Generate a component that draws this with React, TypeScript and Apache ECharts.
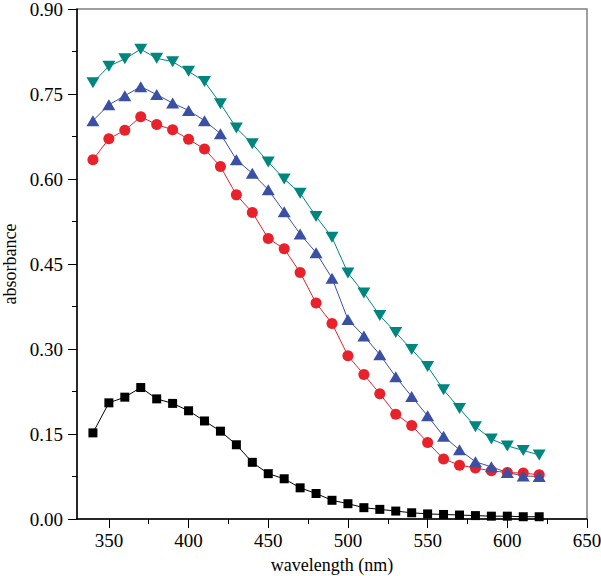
import React, { useEffect, useRef } from "react";
import * as echarts from "echarts";

const wavelengths = [340, 350, 360, 370, 380, 390, 400, 410, 420, 430, 440, 450, 460, 470, 480, 490, 500, 510, 520, 530, 540, 550, 560, 570, 580, 590, 600, 610, 620];
const squares = [0.152, 0.205, 0.215, 0.232, 0.212, 0.204, 0.191, 0.173, 0.155, 0.131, 0.100, 0.080, 0.071, 0.055, 0.045, 0.033, 0.027, 0.020, 0.017, 0.014, 0.011, 0.009, 0.008, 0.007, 0.006, 0.005, 0.005, 0.004, 0.004];
const circles = [0.634, 0.671, 0.686, 0.710, 0.696, 0.687, 0.670, 0.653, 0.622, 0.572, 0.541, 0.495, 0.477, 0.435, 0.381, 0.345, 0.288, 0.255, 0.221, 0.185, 0.165, 0.135, 0.106, 0.095, 0.090, 0.085, 0.082, 0.081, 0.078];
const upTriangles = [0.703, 0.731, 0.747, 0.763, 0.749, 0.734, 0.721, 0.703, 0.680, 0.634, 0.610, 0.581, 0.542, 0.503, 0.470, 0.425, 0.352, 0.323, 0.290, 0.251, 0.216, 0.182, 0.146, 0.122, 0.101, 0.092, 0.082, 0.076, 0.075];
const downTriangles = [0.770, 0.799, 0.812, 0.829, 0.813, 0.807, 0.790, 0.772, 0.733, 0.690, 0.662, 0.630, 0.600, 0.575, 0.534, 0.497, 0.434, 0.399, 0.359, 0.329, 0.299, 0.269, 0.228, 0.195, 0.163, 0.141, 0.129, 0.121, 0.113];

const xTickValues = [350, 400, 450, 500, 550, 600, 650];
const xMinorTickValues = [375, 425, 475, 525, 575, 625];
const yTickValues = [0, 0.15, 0.3, 0.45, 0.6, 0.75, 0.9];

const FONT = "'Liberation Serif', 'Times New Roman', serif";

export default function App() {
  const ref = useRef<HTMLDivElement>(null);
  useEffect(() => {
    document.body.style.margin = "0";
    const chart = echarts.init(ref.current!, null, { renderer: "svg" });
    const pair = (ys: number[]) => wavelengths.map((x, i) => [x, ys[i]]);
    const gridTop = 9;
    const gridBottom = 57;
    const gridHeight = 576 - gridTop - gridBottom;
    const mkSeries = (name: string, ys: number[], color: string, symbol: string, size: any, rotate = 0) => ({
      name,
      type: "line",
      data: pair(ys),
      symbol,
      symbolSize: size,
      symbolRotate: rotate,
      showSymbol: true,
      lineStyle: { color, width: 1 },
      itemStyle: { color, borderWidth: 0 },
      emphasis: { disabled: true },
      silent: true,
    });
    chart.setOption({
      animation: false,
      backgroundColor: "#fff",
      grid: {
        left: 77,
        right: 14,
        top: gridTop,
        bottom: gridBottom,
        containLabel: false,
        outerBoundsMode: "none",
        show: true,
        borderColor: "#808080",
        borderWidth: 1.5,
        backgroundColor: "transparent",
      },
      xAxis: [
        {
          type: "value",
          min: 330,
          max: 650,
          position: "bottom",
          axisLine: { show: true, onZero: false, lineStyle: { color: "#000", width: 1.5 } },
          axisTick: { show: true, customValues: xTickValues, length: 9, lineStyle: { color: "#000", width: 1 } },
          axisLabel: { customValues: xTickValues, fontFamily: FONT, fontSize: 19, color: "#000", margin: 12 },
          splitLine: { show: false },
          name: "wavelength (nm)",
          nameLocation: "middle",
          nameGap: 37,
          nameTextStyle: { fontFamily: FONT, fontSize: 18, color: "#000" },
        },
        {
          type: "value",
          min: 330,
          max: 650,
          position: "top",
          offset: -gridHeight,
          axisLine: { show: false },
          axisTick: { show: true, inside: true, customValues: xMinorTickValues, length: 5, lineStyle: { color: "#000", width: 1 } },
          axisLabel: { show: false },
          splitLine: { show: false },
        },
      ],
      yAxis: {
        type: "value",
        min: 0,
        max: 0.9,
        interval: 0.15,
        axisLine: { show: true, onZero: false, lineStyle: { color: "#000", width: 1.5 } },
        axisTick: { show: true, length: 9, lineStyle: { color: "#000", width: 1 } },
        minorTick: { show: true, splitNumber: 2, length: 5, lineStyle: { color: "#000", width: 1 } },
        axisLabel: {
          customValues: yTickValues,
          formatter: (v: number) => v.toFixed(2),
          fontFamily: FONT,
          fontSize: 19,
          color: "#000",
          margin: 14,
        },
        splitLine: { show: false },
        minorSplitLine: { show: false },
        name: "absorbance",
        nameLocation: "middle",
        nameGap: 56,
        nameTextStyle: { fontFamily: FONT, fontSize: 18, color: "#000" },
      },
      series: [
        mkSeries("black", squares, "#000000", "rect", 9),
        mkSeries("red", circles, "#e8212a", "circle", 11),
        mkSeries("blue", upTriangles, "#3a50a2", "triangle", [13, 11]),
        mkSeries("teal", downTriangles, "#00857f", "triangle", [13, 11], 180),
      ],
    });
    return () => chart.dispose();
  }, []);
  return <div ref={ref} style={{ width: 601, height: 576 }} />;
}
